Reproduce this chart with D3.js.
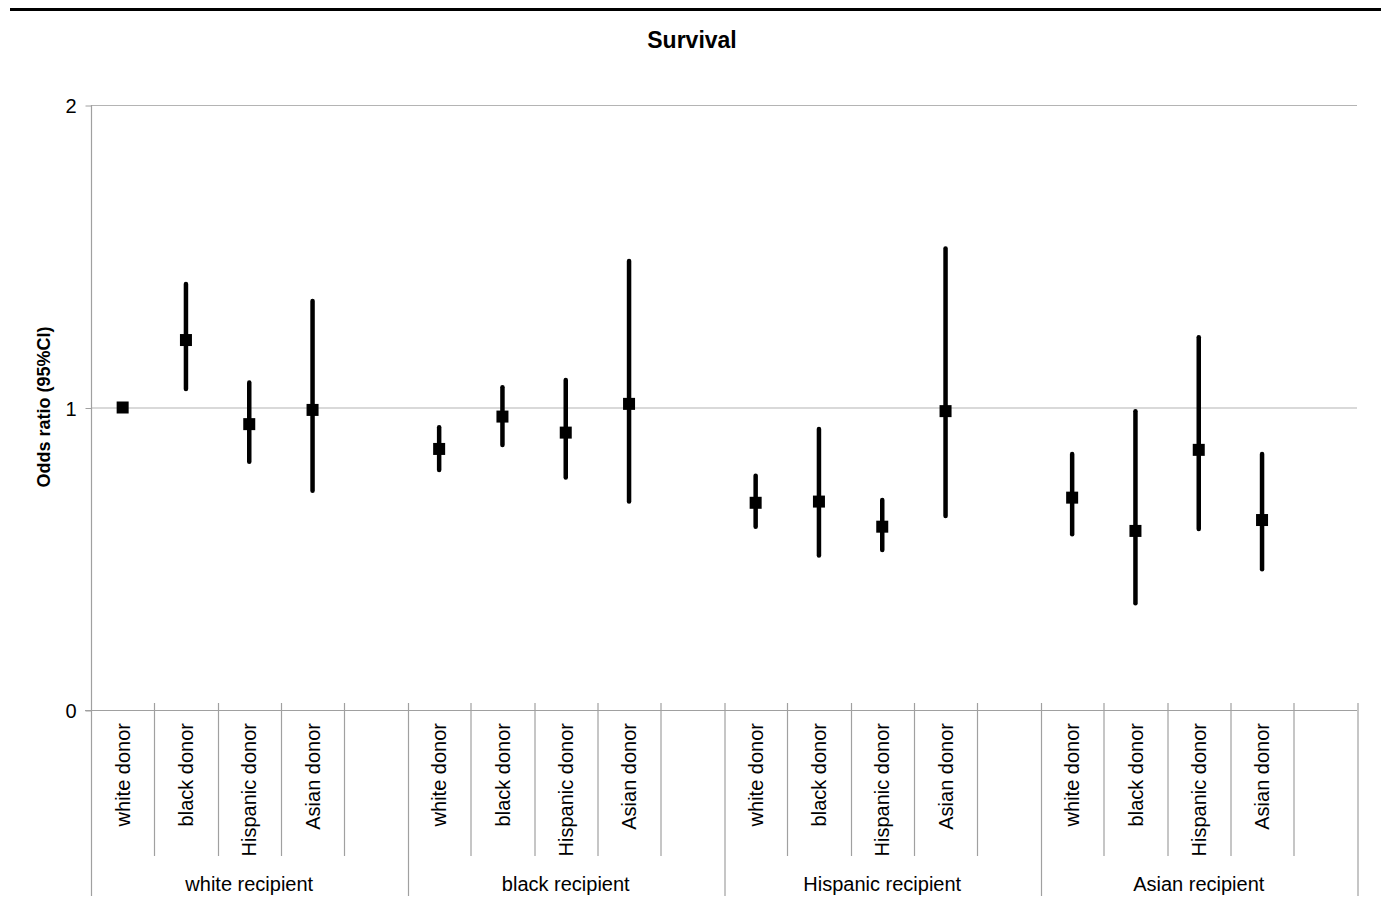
<!DOCTYPE html>
<html>
<head>
<meta charset="utf-8">
<script src="https://cdn.jsdelivr.net/npm/d3@7"></script>
<style>
  body { margin: 0; background: #fff; }
  text { font-family: "Liberation Sans", Arial, sans-serif; fill: #000; }
</style>
</head>
<body>
<div id="chart"></div>
<script>
// odds ratios with 95% CI
var recipients = ["white recipient", "black recipient", "Hispanic recipient", "Asian recipient"];
var donors = ["white donor", "black donor", "Hispanic donor", "Asian donor"];
var yTicks = [0, 1, 2];

var or_white    = [1.000, 1.223, 0.945, 0.992];
var lo_white    = [1.000, 1.061, 0.821, 0.725];
var hi_white    = [1.000, 1.408, 1.083, 1.352];

var or_black    = [0.863, 0.970, 0.917, 1.012];
var lo_black    = [0.793, 0.876, 0.769, 0.689];
var hi_black    = [0.935, 1.067, 1.091, 1.484];

var or_hispanic = [0.685, 0.689, 0.606, 0.988];
var lo_hispanic = [0.606, 0.511, 0.529, 0.641];
var hi_hispanic = [0.774, 0.929, 0.694, 1.526];

var or_asian    = [0.702, 0.592, 0.860, 0.628];
var lo_asian    = [0.581, 0.353, 0.598, 0.465];
var hi_asian    = [0.846, 0.988, 1.232, 0.846];

var series = [
  [or_white, lo_white, hi_white],
  [or_black, lo_black, hi_black],
  [or_hispanic, lo_hispanic, hi_hispanic],
  [or_asian, lo_asian, hi_asian]
];

var w = 1388, h = 917;
var pLeft = 91, pRight = 1357, pTop = 105, pBottom = 710;

var svg = d3.select("#chart").append("svg").attr("width", w).attr("height", h);

// rule above the figure
svg.append("line").attr("x1", 10).attr("x2", 1381).attr("y1", 9.5).attr("y2", 9.5)
  .attr("stroke", "#000").attr("stroke-width", 3);

svg.append("text").attr("x", 692).attr("y", 48).attr("text-anchor", "middle")
  .style("font-size", "23px").style("font-weight", "bold").text("Survival");

// each group has 4 donor slots + 1 empty slot
var slots = donors.concat([""]);
var x0 = d3.scaleBand().domain(recipients).range([pLeft, pRight]);
var x1 = d3.scaleBand().domain(d3.range(slots.length)).range([0, x0.bandwidth()]);
var y = d3.scaleLinear().domain([0, 2]).range([pBottom, pTop]);

// gridlines
svg.selectAll("line.grid").data(yTicks.slice(1)).enter().append("line")
  .attr("class", "grid")
  .attr("x1", pLeft).attr("x2", pRight)
  .attr("y1", function(d) { return y(d) + 0.5; }).attr("y2", function(d) { return y(d) + 0.5; })
  .attr("stroke", "#b4b4b4").attr("stroke-width", 1.2);

// y axis
var yAxis = svg.append("g").attr("transform", "translate(" + (pLeft + 0.5) + ",0.5)")
  .call(d3.axisLeft(y).tickValues(yTicks).tickFormat(d3.format("d")).tickSize(6).tickPadding(9));
yAxis.select(".domain").remove();
yAxis.selectAll(".tick line").attr("stroke", "#a0a0a0");
yAxis.selectAll(".tick text").style("font-size", "20px").style("font-family", "Liberation Sans, Arial, sans-serif")
  .attr("dy", "0.36em");

svg.append("line").attr("x1", pLeft + 0.5).attr("x2", pLeft + 0.5).attr("y1", pTop).attr("y2", 896)
  .attr("stroke", "#a0a0a0").attr("stroke-width", 1.2);

// x axis baseline
svg.append("line").attr("x1", pLeft - 6).attr("x2", pRight).attr("y1", pBottom + 0.5).attr("y2", pBottom + 0.5)
  .attr("stroke", "#a0a0a0").attr("stroke-width", 1.2);

var groups = svg.selectAll("g.rec").data(recipients).enter().append("g")
  .attr("class", "rec")
  .attr("transform", function(d) { return "translate(" + x0(d) + ",0)"; });

groups.each(function(rec, gi) {
  var g = d3.select(this);
  // category separators
  g.selectAll("line.sep").data(d3.range(1, slots.length + 1)).enter().append("line")
    .attr("x1", function(k) { return Math.round(x1(k - 1) + x1.bandwidth()) + 0.5; })
    .attr("x2", function(k) { return Math.round(x1(k - 1) + x1.bandwidth()) + 0.5; })
    .attr("y1", 703)
    .attr("y2", function(k) { return k === slots.length ? 896 : 856; })
    .attr("stroke", "#a0a0a0").attr("stroke-width", 1.2);

  g.selectAll("text.donor").data(donors).enter().append("text")
    .attr("transform", function(d, i) {
      return "translate(" + (x1(i) + x1.bandwidth() / 2) + ",723) rotate(-90)";
    })
    .attr("text-anchor", "end").attr("dy", "0.36em")
    .style("font-size", "20px").text(function(d) { return d; });

  g.append("text").attr("x", x0.bandwidth() / 2).attr("y", 891)
    .attr("text-anchor", "middle").style("font-size", "20px").text(rec);

  var s = series[gi];
  var pts = donors.map(function(d, i) { return { i: i, or: s[0][i], lo: s[1][i], hi: s[2][i] }; });

  g.selectAll("line.ci").data(pts).enter().append("line")
    .attr("x1", function(d) { return x1(d.i) + x1.bandwidth() / 2; })
    .attr("x2", function(d) { return x1(d.i) + x1.bandwidth() / 2; })
    .attr("y1", function(d) { return y(d.lo); })
    .attr("y2", function(d) { return y(d.hi); })
    .attr("stroke", "#000").attr("stroke-width", 4.5).attr("stroke-linecap", "round");

  g.selectAll("rect.pt").data(pts).enter().append("rect")
    .attr("x", function(d) { return x1(d.i) + x1.bandwidth() / 2 - 6; })
    .attr("y", function(d) { return y(d.or) - 6; })
    .attr("width", 12).attr("height", 12).attr("fill", "#000");
});

svg.append("text")
  .attr("transform", "translate(44,407) rotate(-90)")
  .attr("text-anchor", "middle").attr("dy", "0.36em")
  .style("font-size", "18px").style("font-weight", "bold").text("Odds ratio (95%CI)");
</script>
</body>
</html>
